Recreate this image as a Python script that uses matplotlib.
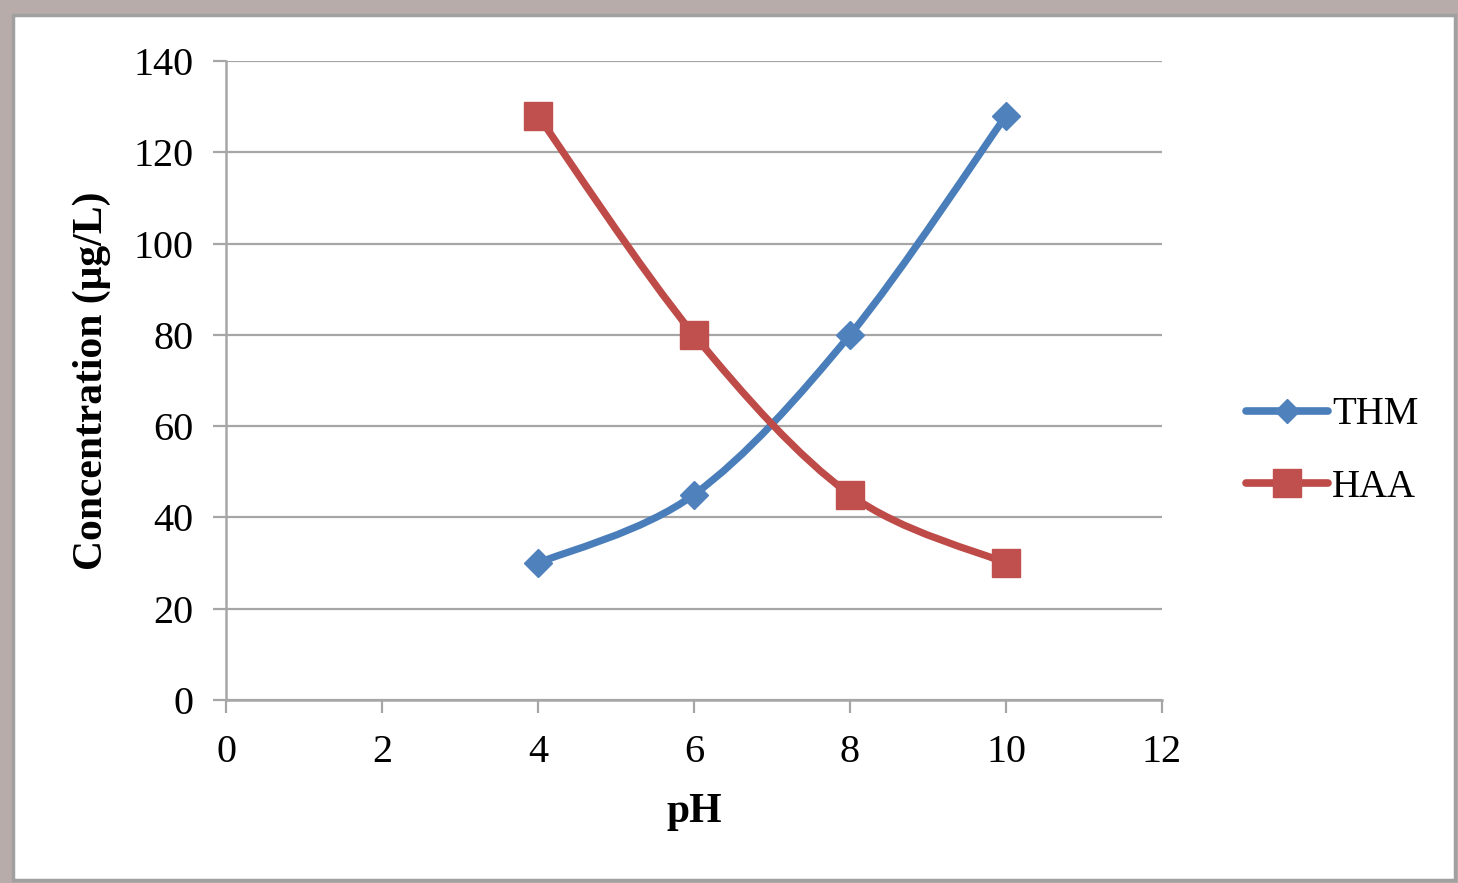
import matplotlib
matplotlib.use("Agg")
import matplotlib.pyplot as plt
from matplotlib.path import Path
from matplotlib.patches import PathPatch, Rectangle
from matplotlib.lines import Line2D
import numpy as np

plt.rcParams['font.family'] = ['Liberation Serif', 'DejaVu Serif']

ph = [4, 6, 8, 10]
thm = [30, 45, 80, 128]
haa = [128, 80, 45, 30]
xticks = [0, 2, 4, 6, 8, 10, 12]
yticks = [0, 20, 40, 60, 80, 100, 120, 140]

BLUE_LINE = '#4a7ebb'
BLUE_FILL = '#4f81bd'
RED_LINE = '#be4b48'
RED_FILL = '#c0504d'
GRID = '#a6a6a6'
FS = 29

fig = plt.figure(figsize=(14.58, 8.83), dpi=100)
fig.patch.set_facecolor('#b7aca9')
# white panel with gray border
fig.patches.append(Rectangle((13/1458, 1 - 880/883), (1455-13)/1458, (880-15)/883,
                             transform=fig.transFigure, facecolor='white',
                             edgecolor='#a0a0a0', linewidth=2.5, zorder=-10))

ax = fig.add_axes([226/1458, 1 - 700/883, (1162-226)/1458, (700-61)/883])
ax.set_facecolor('none')
ax.set_xlim(0, 12)
ax.set_ylim(0, 140)
ax.set_xticks(xticks)
ax.set_yticks(yticks)
ax.tick_params(axis='both', direction='out', length=9.5, width=1.6, color=GRID,
               labelsize=FS)
ax.tick_params(axis='y', pad=14)
ax.tick_params(axis='x', pad=15)
for s in ['top', 'right']:
    ax.spines[s].set_visible(False)
for s in ['left', 'bottom']:
    ax.spines[s].set_color(GRID)
    ax.spines[s].set_linewidth(1.8)
ax.yaxis.grid(True, color=GRID, linewidth=1.6)
ax.set_axisbelow(True)


def smooth_path(x, y):
    pts = np.column_stack([x, y]).astype(float)
    n = len(pts)
    verts = [pts[0]]
    codes = [Path.MOVETO]
    for i in range(n - 1):
        p0 = pts[i - 1] if i > 0 else pts[i]
        p1 = pts[i]
        p2 = pts[i + 1]
        p3 = pts[i + 2] if i + 2 < n else pts[i + 1]
        c1 = p1 + (p2 - p0) / 6.0
        c2 = p2 - (p3 - p1) / 6.0
        verts += [c1, c2, p2]
        codes += [Path.CURVE4] * 3
    return Path(verts, codes)


for y, lc, fc, mk, ms in [(thm, BLUE_LINE, BLUE_FILL, 'D', 14.5),
                          (haa, RED_LINE, RED_FILL, 's', 20)]:
    ax.add_patch(PathPatch(smooth_path(ph, y), facecolor='none', edgecolor=lc,
                           linewidth=5.2, capstyle='round', zorder=3))
    ax.plot(ph, y, linestyle='none', marker=mk, markersize=ms,
            markerfacecolor=fc, markeredgecolor=fc, zorder=4)

ax.set_xlabel('pH', fontsize=30, fontweight='bold', labelpad=16)
ax.set_ylabel('Concentration (μg/L)', fontsize=30, fontweight='bold', labelpad=16)

handles = [Line2D([], [], color=BLUE_LINE, linewidth=5.5, marker='D', markersize=12,
                  markerfacecolor=BLUE_FILL, markeredgecolor=BLUE_FILL,
                  solid_capstyle='round'),
           Line2D([], [], color=RED_LINE, linewidth=5.5, marker='s', markersize=20,
                  markerfacecolor=RED_FILL, markeredgecolor=RED_FILL,
                  solid_capstyle='round')]
fig.legend(handles, ['THM', 'HAA'], loc='center left',
           bbox_to_anchor=(1246/1458, 1 - 451/883), frameon=False,
           fontsize=28, handlelength=2.1, handletextpad=0.12, labelspacing=0.92,
           borderpad=0, borderaxespad=0)

fig.savefig('out.png', dpi=100, facecolor=fig.get_facecolor())
